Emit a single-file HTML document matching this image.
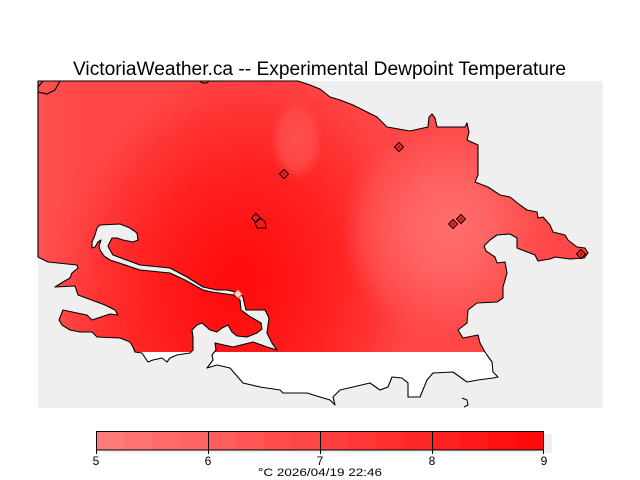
<!DOCTYPE html>
<html>
<head>
<meta charset="utf-8">
<style>
html,body{margin:0;padding:0;background:#fff;}
svg{display:block;}
</style>
</head>
<body>
<svg width="640" height="480" viewBox="0 0 640 480" xmlns="http://www.w3.org/2000/svg">
<defs>
  <clipPath id="land">
    <path id="landpath" d="M38,81 L298,81 L310,85 L320,89 L330,97 L340,100 L353,105 L367,112 L377,117 L387,127 L410,131 L428,127 L429,117 L432,114 L435,118 L437,127 L465,127 L467,123 L469,132 L467,140 L478,145 L478,175 L475,182 L488,187 L500,195 L510,197 L520,205 L527,210 L537,212 L538,218 L543,217 L550,225 L553,232 L565,235 L568,240 L577,247 L585,248 L588,253 L584,258 L570,259 L555,257 L550,259 L538,261 L535,255 L517,248 L517,238 L510,234 L497,235 L490,240 L484,246 L486,251 L495,257 L497,263 L505,262 L507,273 L503,287 L503,298 L497,302 L477,303 L468,310 L467,323 L458,330 L463,338 L478,335 L480,343 L485,352 L487,355 L492,362 L493,372 L498,377 L493,378 L478,380 L467,382 L460,377 L453,372 L433,373 L427,380 L420,397 L408,397 L408,383 L402,378 L392,377 L388,387 L380,390 L370,383 L340,390 L333,397 L335,405 L330,400 L320,397 L307,393 L283,393 L280,390 L260,387 L243,383 L230,368 L217,365 L207,368 L213,360 L212,355 L216,350 L215,343 L233,347 L253,342 L267,347 L277,350 L272,343 L267,333 L269,318 L265,310 L246,310 L243,297 L240,293 L227,290 L217,290 L203,287 L187,277 L170,268 L140,265 L113,255 L110,250 L108,246 L110,242 L112,238 L117,238 L123,240 L133,242 L138,240 L137,233 L130,228 L120,224 L100,225 L97,228 L95,235 L92,242 L92,248 L95,247 L98,242 L101,240 L99,246 L100,250 L104,256 L110,260 L140,270 L170,273 L185,280 L203,290 L212,292 L233,295 L240,300 L241,310 L249,316 L261,323 L262,329 L257,333 L247,337 L237,336 L232,332 L228,325 L222,328 L217,332 L210,330 L202,323 L197,325 L192,330 L193,338 L193,350 L190,353 L177,355 L170,358 L167,362 L162,358 L153,360 L148,362 L142,353 L135,352 L133,347 L130,342 L120,338 L97,337 L92,332 L80,332 L70,330 L62,325 L59,320 L63,310 L77,313 L87,315 L92,320 L110,314 L118,315 L115,310 L105,305 L97,302 L78,295 L75,286 L55,287 L63,282 L70,278 L72,273 L78,268 L77,265 L48,262 L38,257 Z"/>
  </clipPath>
  <clipPath id="topclip"><rect x="38" y="81" width="565" height="271"/></clipPath>
  <linearGradient id="leftg" x1="38" y1="0" x2="80" y2="0" gradientUnits="userSpaceOnUse">
    <stop offset="0" stop-color="#ff5252" stop-opacity="1"/>
    <stop offset="1" stop-color="#ff5252" stop-opacity="0"/>
  </linearGradient>
  <radialGradient id="dark" gradientUnits="userSpaceOnUse" cx="0" cy="0" r="1" gradientTransform="translate(238,285) rotate(12) scale(195,245)">
    <stop offset="0" stop-color="#ff0b0b" stop-opacity="1"/>
    <stop offset="0.18" stop-color="#ff1111" stop-opacity="1"/>
    <stop offset="0.46" stop-color="#ff2020" stop-opacity="1"/>
    <stop offset="0.75" stop-color="#ff3636" stop-opacity="1"/>
    <stop offset="1" stop-color="#ff4747" stop-opacity="0"/>
  </radialGradient>
  <radialGradient id="light" gradientUnits="userSpaceOnUse" cx="0" cy="0" r="1" gradientTransform="translate(450,228) scale(108,118)">
    <stop offset="0" stop-color="#ff6c6c" stop-opacity="1"/>
    <stop offset="0.3" stop-color="#ff6666" stop-opacity="1"/>
    <stop offset="0.55" stop-color="#ff5a5a" stop-opacity="1"/>
    <stop offset="0.8" stop-color="#ff4f4f" stop-opacity="0.75"/>
    <stop offset="1" stop-color="#ff4747" stop-opacity="0"/>
  </radialGradient>
  <radialGradient id="spot" gradientUnits="userSpaceOnUse" cx="0" cy="0" r="1" gradientTransform="translate(297,140) scale(26,40)">
    <stop offset="0" stop-color="#ff5050" stop-opacity="1"/>
    <stop offset="0.7" stop-color="#ff4e4e" stop-opacity="0.7"/>
    <stop offset="1" stop-color="#ff4a4a" stop-opacity="0"/>
  </radialGradient>
  <radialGradient id="dspot" gradientUnits="userSpaceOnUse" cx="0" cy="0" r="1" gradientTransform="translate(405,150) scale(45,32)">
    <stop offset="0" stop-color="#ff4040" stop-opacity="1"/>
    <stop offset="1" stop-color="#ff4545" stop-opacity="0"/>
  </radialGradient>
</defs>

<rect x="0" y="0" width="640" height="480" fill="#ffffff"/>
<rect x="38" y="81" width="565" height="327" fill="#efefef"/>

<use href="#landpath" fill="#ffffff"/>

<g clip-path="url(#land)">
  <g clip-path="url(#topclip)">
    <rect x="38" y="81" width="565" height="271" fill="#ff4747"/>
    <rect x="38" y="81" width="565" height="271" fill="url(#dspot)"/>
    <rect x="38" y="81" width="60" height="271" fill="url(#leftg)"/>
    <rect x="38" y="81" width="565" height="271" fill="url(#dark)"/>
    <rect x="38" y="81" width="565" height="271" fill="url(#light)"/>
    <rect x="38" y="81" width="565" height="271" fill="url(#spot)"/>
  </g>
</g>

<use href="#landpath" fill="none" stroke="#000" stroke-width="1.1" stroke-linejoin="round"/>
<polyline points="43,81 38,87 38,92 47,94 55,90 60,81" fill="none" stroke="#000" stroke-width="1.1"/>
<polyline points="200,81 202,83 207,83 209,81" fill="none" stroke="#000" stroke-width="1"/>
<polyline points="462,398 467,400 468,405 464,407" fill="none" stroke="#000" stroke-width="1"/>
<polygon points="255,223 258,219 262,219 265,222 266,228 257,228" fill="none" stroke="#000" stroke-width="1"/>

<g stroke="#000" stroke-width="1">
  <polygon points="284,169.5 288.5,174 284,178.5 279.5,174" fill="#ff3030"/>
  <polygon points="399,142.5 403.5,147 399,151.5 394.5,147" fill="#ff3030"/>
  <polygon points="453,219.5 457.5,224 453,228.5 448.5,224" fill="#ff3030"/>
  <polygon points="461,214.5 465.5,219 461,223.5 456.5,219" fill="#ff3030"/>
  <polygon points="581,249.5 585.5,254 581,258.5 576.5,254" fill="#ff3030"/>
  <polygon points="256,213.5 260.5,218 256,222.5 251.5,218" fill="none"/>
</g>
<g fill="#c41010">
  <polygon points="284,172 286,174 284,176 282,174"/>
  <polygon points="399,145 401,147 399,149 397,147"/>
  <polygon points="453,222 455,224 453,226 451,224"/>
  <polygon points="461,217 463,219 461,221 459,219"/>
  <polygon points="581,252 583,254 581,256 579,254"/>
</g>
<polygon points="238,289.5 242.5,294 238,298.5 233.5,294" fill="#ffd0d0" stroke="#ff3030" stroke-width="1"/>

<text x="73" y="75" font-family="Liberation Sans, sans-serif" font-size="19" fill="#000" textLength="493" lengthAdjust="spacingAndGlyphs">VictoriaWeather.ca -- Experimental Dewpoint Temperature</text>

<rect x="103" y="434" width="449" height="19" fill="#efefef"/>
<g>
  <rect x="96" y="431" width="28" height="19" fill="#ff7a7a"/>
  <rect x="124" y="431" width="28" height="19" fill="#ff7373"/>
  <rect x="152" y="431" width="28" height="19" fill="#ff6b6b"/>
  <rect x="180" y="431" width="28" height="19" fill="#ff6464"/>
  <rect x="208" y="431" width="28" height="19" fill="#ff5c5c"/>
  <rect x="236" y="431" width="28" height="19" fill="#ff5555"/>
  <rect x="264" y="431" width="28" height="19" fill="#ff4d4d"/>
  <rect x="292" y="431" width="28" height="19" fill="#ff4646"/>
  <rect x="320" y="431" width="28" height="19" fill="#ff3e3e"/>
  <rect x="348" y="431" width="28" height="19" fill="#ff3737"/>
  <rect x="376" y="431" width="28" height="19" fill="#ff2f2f"/>
  <rect x="404" y="431" width="28" height="19" fill="#ff2828"/>
  <rect x="432" y="431" width="28" height="19" fill="#ff2020"/>
  <rect x="460" y="431" width="28" height="19" fill="#ff1919"/>
  <rect x="488" y="431" width="28" height="19" fill="#ff1111"/>
  <rect x="516" y="431" width="28" height="19" fill="#ff0a0a"/>
</g>
<rect x="96.5" y="431.5" width="447" height="18.5" fill="none" stroke="#000" stroke-width="1"/>
<g stroke="#000" stroke-width="1">
  <line x1="96.5" y1="431" x2="96.5" y2="454"/>
  <line x1="208.5" y1="431" x2="208.5" y2="454"/>
  <line x1="320.5" y1="431" x2="320.5" y2="454"/>
  <line x1="432.5" y1="431" x2="432.5" y2="454"/>
  <line x1="543.5" y1="431" x2="543.5" y2="454"/>
</g>
<g font-family="Liberation Sans, sans-serif" font-size="12" fill="#000" text-anchor="middle">
  <text x="96" y="465">5</text>
  <text x="208" y="465">6</text>
  <text x="320" y="465">7</text>
  <text x="432" y="465">8</text>
  <text x="544" y="465">9</text>
</g>
<text x="258" y="476" font-family="Liberation Sans, sans-serif" font-size="11" fill="#000" textLength="124" lengthAdjust="spacingAndGlyphs">°C  2026/04/19 22:46</text>
</svg>
</body>
</html>
